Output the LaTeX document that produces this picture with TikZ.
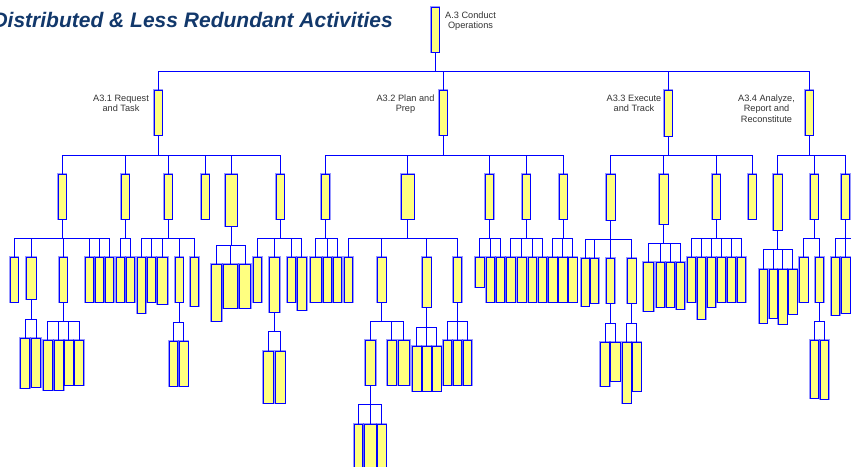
\documentclass[tikz,border=0pt]{standalone}
\usepackage{fontspec}
\setmainfont{Liberation Sans}
\definecolor{boxfill}{HTML}{FFFF80}
\definecolor{wireblue}{HTML}{0000FF}
\definecolor{titleblue}{HTML}{12386B}
\tikzset{
  wire/.style={draw=wireblue, line width=1pt},
  box/.style={draw=wireblue, fill=boxfill, line width=0.9pt, inner sep=0pt, outer sep=0pt,
    preaction={draw=wireblue, draw opacity=0.4, line width=2.4pt}},
  lbl/.style={font=\fontsize{9.2}{10.7}\selectfont, text=black!80, align=center, inner sep=0pt},
}
% \actbox{name}{left}{top}{right}{bottom}
\newcommand\actbox[5]{\node[box, minimum width={#4pt-#2pt}, minimum height={#5pt-#3pt}] (#1) at ({(#2+#4)/2},{(#3+#5)/2}) {};}
% \branch{parent}{bar y}{first child}{last child}{all children}
\newcommand\branch[5]{%
  \draw[wire] (#1.south) -- (#1.south |- 0,#2);
  \draw[wire] (#3.north |- 0,#2) -- (#4.north |- 0,#2);
  \foreach \c in {#5}{\draw[wire] (\c.north |- 0,#2) -- (\c.north);}
}
\begin{document}
\begin{tikzpicture}[x=1pt,y=-1pt]
\useasboundingbox (0,0) rectangle (851,466);
\clip (0,0) rectangle (851,466);

\node[font=\fontsize{21}{24}\selectfont\bfseries\itshape, text=titleblue, anchor=base east, inner sep=0pt] (title) at (393,27) {Distributed \& Less Redundant Activities};

% root and first level
\actbox{r}{431}{7}{439}{52}
\actbox{a31}{154}{90}{162}{135}
\actbox{a32}{439}{90}{447}{135}
\actbox{a33}{664}{90}{672}{136}
\actbox{a34}{805}{90}{813}{135}

% labels (anchored at the baseline of their last line)
\node[lbl, anchor=base] (lr) at (470.5,28.7) {A.3 Conduct\\Operations};
\node[lbl, anchor=base] (l31) at (121,111.7) {A3.1 Request\\and Task};
\node[lbl, anchor=base] (l32) at (405.5,111.7) {A3.2 Plan and\\Prep};
\node[lbl, anchor=base] (l33) at (634,111.7) {A3.3 Execute\\and Track};
\node[lbl, anchor=base] (l34) at (766.5,122.4) {A3.4 Analyze,\\Report and\\Reconstitute};

% second level
\actbox{p1}{58}{174}{66}{219}
\actbox{p2}{121}{174}{129}{219}
\actbox{p3}{164}{174}{172}{219}
\actbox{p4}{201}{174}{209}{219}
\actbox{p5}{225}{174}{237}{226}
\actbox{p6}{276}{174}{284}{219}
\actbox{q1}{321.5}{174}{329.5}{219}
\actbox{q2}{401}{174}{414}{219}
\actbox{q3}{485.5}{174}{493.5}{219}
\actbox{q4}{522}{174}{530}{219}
\actbox{q5}{559}{174}{567}{219}
\actbox{s1}{606}{174}{615}{220}
\actbox{s2}{659.5}{174}{668}{224}
\actbox{s3}{712}{174}{720}{219}
\actbox{s4}{748}{174}{756}{219}
\actbox{t1}{773.5}{174}{782}{230}
\actbox{t2}{810}{174}{818}{219}
\actbox{t3}{841.5}{174}{849.5}{219}

% third level, A3.1
\actbox{p1a}{10}{257}{18}{302}
\actbox{p1b}{26}{257}{36}{299}
\actbox{p1c}{59}{257}{67}{302}
\actbox{p1d}{85.5}{257}{93.5}{302}
\actbox{p1e}{95.5}{257}{103.5}{302}
\actbox{p1f}{105.5}{257}{113.5}{302}
\actbox{p2a}{116.5}{257}{124.5}{302}
\actbox{p2b}{126.5}{257}{134.5}{302}
\actbox{p3a}{137}{257}{145.5}{313}
\actbox{p3b}{147}{257}{155.5}{302}
\actbox{p3c}{157}{257}{167.5}{304}
\actbox{p3d}{175}{257}{183}{302}
\actbox{p3e}{190}{257}{198.5}{306}
\actbox{p5a}{211.5}{264}{221.5}{321}
\actbox{p5b}{223.5}{264}{237.5}{308}
\actbox{p5c}{239.5}{264}{250.5}{308}
\actbox{p6a}{253.5}{257}{261.5}{302}
\actbox{p6b}{269.5}{257}{279.5}{312}
\actbox{p6c}{287}{257}{295.5}{302}
\actbox{p6d}{297}{257}{306.5}{310}

% third level, A3.2
\actbox{q1a}{310}{257}{321.5}{302}
\actbox{q1b}{323}{257}{331.5}{302}
\actbox{q1c}{333}{257}{341.5}{302}
\actbox{q2a}{344}{257}{352.5}{302}
\actbox{q2b}{377.5}{257}{386}{302}
\actbox{q2c}{422.5}{257}{431}{307}
\actbox{q2d}{453}{257}{461.5}{302}
\actbox{q3a}{475}{257}{484}{287}
\actbox{q3b}{486}{257}{494.5}{302}
\actbox{q3c}{496}{257}{504.5}{302}
\actbox{q4a}{506.5}{257}{515}{302}
\actbox{q4b}{517}{257}{526}{302}
\actbox{q4c}{528}{257}{536}{302}
\actbox{q4d}{538}{257}{546.5}{302}
\actbox{q5a}{548.5}{257}{557}{302}
\actbox{q5b}{558.5}{257}{567}{302}
\actbox{q5c}{568.5}{257}{577}{302}

% third level, A3.3
\actbox{s1a}{581}{258}{589}{306}
\actbox{s1b}{590.5}{258}{598.5}{303}
\actbox{s1c}{606}{258}{614.5}{303}
\actbox{s1d}{627.5}{258}{636}{303}
\actbox{s2a}{643.5}{262}{653.5}{311}
\actbox{s2b}{656}{262}{664.5}{307}
\actbox{s2c}{666}{262}{674.5}{307}
\actbox{s2d}{676}{262}{684.5}{309}
\actbox{s3a}{687}{257}{695.5}{302}
\actbox{s3b}{697}{257}{705.5}{319}
\actbox{s3c}{707}{257}{715.5}{307}
\actbox{s3d}{717}{257}{725.5}{302}
\actbox{s3e}{727}{257}{735.5}{302}
\actbox{s3f}{737}{257}{745.5}{302}

% third level, A3.4
\actbox{t1a}{759}{269}{767}{323}
\actbox{t1b}{769}{269}{777}{318}
\actbox{t1c}{778.5}{269}{787}{324}
\actbox{t1d}{788.5}{269}{797}{314}
\actbox{t2a}{799.5}{257}{808}{302}
\actbox{t2b}{815}{257}{823.5}{302}
\actbox{t3a}{831}{257}{839.5}{315}
\actbox{t3b}{841.5}{257}{850}{313}
\coordinate (t3end) at (856,238);

% fourth level
\actbox{p1b1}{20.5}{338}{29.5}{388}
\actbox{p1b2}{31.5}{338}{40.5}{387}
\actbox{p1c1}{43}{340}{52.5}{390}
\actbox{p1c2}{54}{340}{63.5}{390}
\actbox{p1c3}{64.5}{340}{73}{385}
\actbox{p1c4}{74.5}{340}{83.5}{385}
\actbox{p3d1}{169.5}{341}{177.5}{386}
\actbox{p3d2}{179.5}{341}{188}{386}
\actbox{p6b1}{263.5}{351}{273}{403}
\actbox{p6b2}{275}{351}{285}{403}
\actbox{q2b1}{365}{340}{375.5}{385}
\actbox{q2b2}{387.5}{340}{396}{385}
\actbox{q2b3}{398}{340}{409.5}{385}
\actbox{q2c1}{412.5}{346}{421}{391}
\actbox{q2c2}{422.5}{346}{431}{391}
\actbox{q2c3}{432.5}{346}{441}{391}
\actbox{q2d1}{443}{340}{451.5}{385}
\actbox{q2d2}{453}{340}{461.5}{385}
\actbox{q2d3}{463}{340}{471.5}{385}
\actbox{s1c1}{600.5}{342}{609.5}{386}
\actbox{s1c2}{610.5}{342}{620}{381}
\actbox{s1d1}{622}{342}{631}{403}
\actbox{s1d2}{632.5}{342}{641}{391}
\actbox{t2b1}{810}{340}{818.5}{398}
\actbox{t2b2}{820}{340}{828.5}{399}

% fifth level
\actbox{q2b1a}{354.5}{424}{362.5}{470}
\actbox{q2b1b}{364.5}{424}{376}{470}
\actbox{q2b1c}{377.5}{424}{386}{470}

% connectors
\branch{r}{71}{a31}{a34}{a31,a32,a33,a34}
\branch{a31}{155}{p1}{p6}{p1,p2,p3,p4,p5,p6}
\branch{a32}{155}{q1}{q5}{q1,q2,q3,q4,q5}
\branch{a33}{155}{s1}{s4}{s1,s2,s3,s4}
\branch{a34}{155}{t1}{t3}{t1,t2,t3}

\branch{p1}{238}{p1a}{p1f}{p1a,p1b,p1c,p1d,p1e,p1f}
\branch{p2}{238}{p2a}{p2b}{p2a,p2b}
\branch{p3}{238}{p3a}{p3e}{p3a,p3b,p3c,p3d,p3e}
\branch{p5}{245}{p5a}{p5c}{p5a,p5b,p5c}
\branch{p6}{238}{p6a}{p6d}{p6a,p6b,p6c,p6d}
\branch{q1}{238}{q1a}{q1c}{q1a,q1b,q1c}
\branch{q2}{238}{q2a}{q2d}{q2a,q2b,q2c,q2d}
\branch{q3}{238}{q3a}{q3c}{q3a,q3b,q3c}
\branch{q4}{238}{q4a}{q4d}{q4a,q4b,q4c,q4d}
\branch{q5}{238}{q5a}{q5c}{q5a,q5b,q5c}
\branch{s1}{239}{s1a}{s1d}{s1a,s1b,s1c,s1d}
\branch{s2}{243}{s2a}{s2d}{s2a,s2b,s2c,s2d}
\branch{s3}{238}{s3a}{s3f}{s3a,s3b,s3c,s3d,s3e,s3f}
\branch{t1}{249}{t1a}{t1d}{t1a,t1b,t1c,t1d}
\branch{t2}{238}{t2a}{t2b}{t2a,t2b}
\branch{t3}{238}{t3a}{t3b}{t3a,t3b}
\draw[wire] (t3b.north |- t3end) -- (t3end);

\branch{p1b}{319}{p1b1}{p1b2}{p1b1,p1b2}
\branch{p1c}{321}{p1c1}{p1c4}{p1c1,p1c2,p1c3,p1c4}
\branch{p3d}{322}{p3d1}{p3d2}{p3d1,p3d2}
\branch{p6b}{331}{p6b1}{p6b2}{p6b1,p6b2}
\branch{q2b}{321}{q2b1}{q2b3}{q2b1,q2b2,q2b3}
\branch{q2c}{327}{q2c1}{q2c3}{q2c1,q2c2,q2c3}
\branch{q2d}{321}{q2d1}{q2d3}{q2d1,q2d2,q2d3}
\branch{s1c}{323}{s1c1}{s1c2}{s1c1,s1c2}
\branch{s1d}{323}{s1d1}{s1d2}{s1d1,s1d2}
\branch{t2b}{321}{t2b1}{t2b2}{t2b1,t2b2}
\branch{q2b1}{404}{q2b1a}{q2b1c}{q2b1a,q2b1b,q2b1c}
\end{tikzpicture}
\end{document}
